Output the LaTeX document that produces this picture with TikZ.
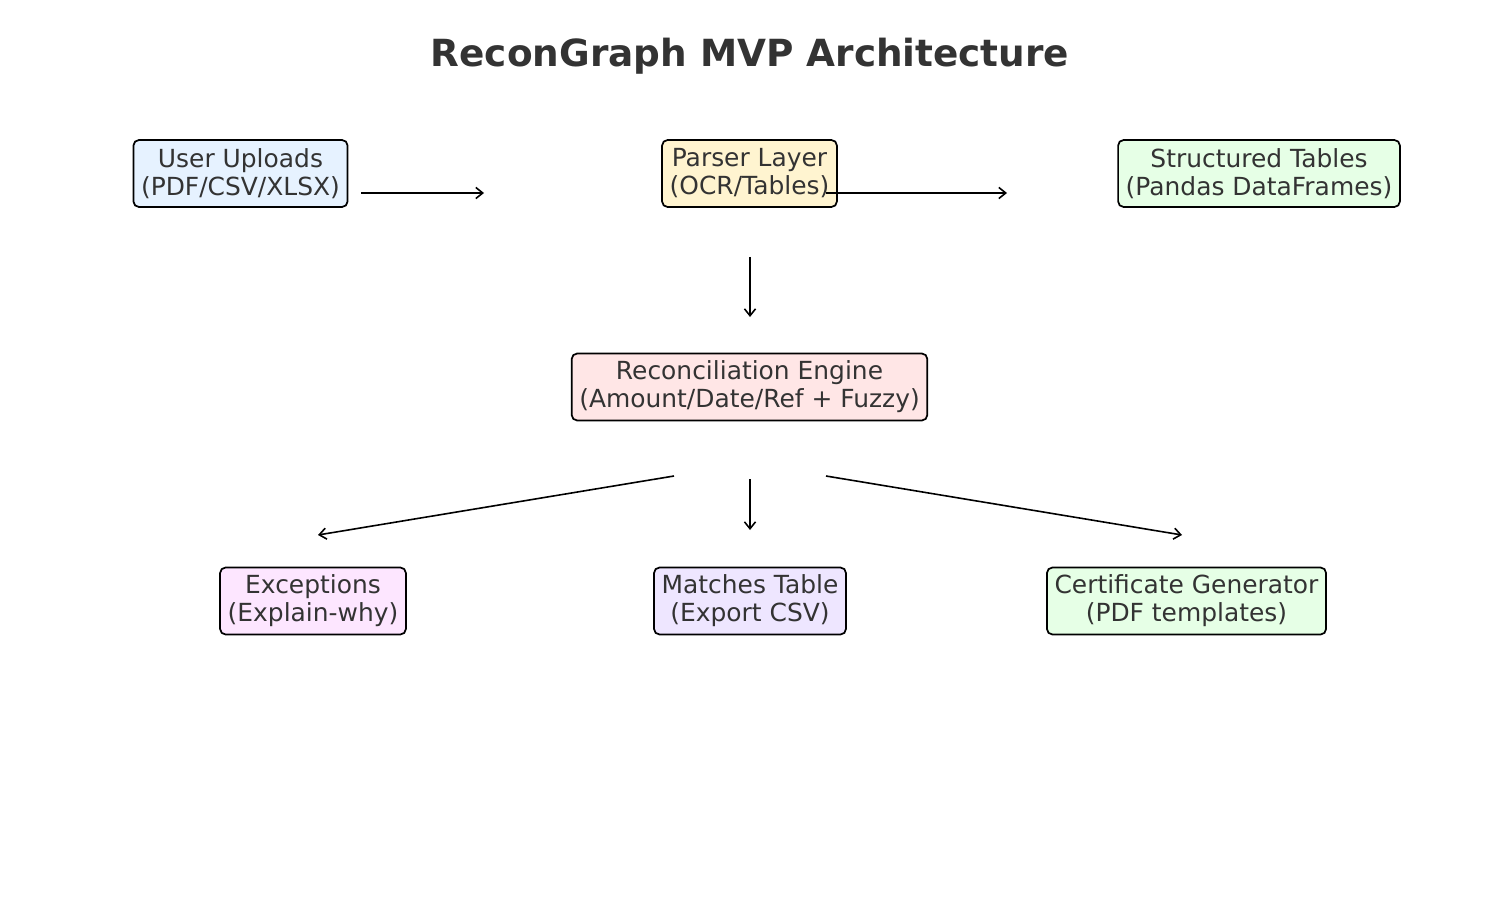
\documentclass[tikz,border=0pt]{standalone}
\usepackage{fontspec}
\setmainfont{DejaVu Sans}
\usetikzlibrary{positioning}
\usetikzlibrary{arrows.meta}

\definecolor{txtGray}{HTML}{333333}
\definecolor{uploadFill}{HTML}{E6F2FF}
\definecolor{parserFill}{HTML}{FFF4D0}
\definecolor{tableFill}{HTML}{E6FFE6}
\definecolor{engineFill}{HTML}{FFE6E6}
\definecolor{excFill}{HTML}{FDE6FF}
\definecolor{matchFill}{HTML}{EEE6FF}
\definecolor{certFill}{HTML}{E6FFE6}

\tikzset{
	stagebox/.style={rectangle, draw=black, line width=1.25pt, rounded corners=4pt, text=txtGray, align=center, minimum height=0.67in, inner xsep=5.5pt, font=\fontsize{18}{20.3}\selectfont},
	flow/.style={-{Straight Barb[length=5pt,width=8pt]}, line width=1.15pt}
}

\begin{document}
\begin{tikzpicture}[x=0.01in, y=-0.01in]
	\useasboundingbox (0,0) rectangle (1500,900);

	\node[font=\fontsize{27}{32}\selectfont\bfseries, text=txtGray](title) at (750,56){ReconGraph MVP Architecture};

	% top row
	\node[stagebox, fill=uploadFill](uploads) at (240.5,173.5){User Uploads\\(PDF/CSV/XLSX)};
	\node[stagebox, fill=parserFill](parser) at (749.5,173.5){Parser Layer\\(OCR/Tables)};
	\node[stagebox, fill=tableFill](tables) at (1259,173.5){Structured Tables\\(Pandas DataFrames)};

	% engine
	\node[stagebox, fill=engineFill](engine) at (749.5,387){Reconciliation Engine\\(Amount/Date/Ref + Fuzzy)};

	% outputs
	\node[stagebox, fill=excFill](exceptions) at (313,601){Exceptions\\(Explain-why)};
	\node[stagebox, fill=matchFill](matches) at (750,601){Matches Table\\(Export CSV)};
	\node[stagebox, fill=certFill](certgen) at (1186.5,601){Certificate Generator\\(PDF templates)};

	% arrow ends
	\coordinate(uploadsOut) at (361,193);
	\coordinate(parserIn) at (484,193);
	\coordinate(parserOut) at (826,193);
	\coordinate(tablesIn) at (1007,193);
	\coordinate(parserDown) at (750,257);
	\coordinate(engineIn) at (750,317);
	\coordinate(engineOutL) at (674,476);
	\coordinate(exceptionsIn) at (318,535);
	\coordinate(engineOutM) at (750,479);
	\coordinate(matchesIn) at (750,530);
	\coordinate(engineOutR) at (826,476);
	\coordinate(certgenIn) at (1182,535);

	\draw[flow](uploadsOut) -- (parserIn);
	\draw[flow](parserOut) -- (tablesIn);
	\draw[flow](parserDown) -- (engineIn);
	\draw[flow](engineOutL) -- (exceptionsIn);
	\draw[flow](engineOutM) -- (matchesIn);
	\draw[flow](engineOutR) -- (certgenIn);

\end{tikzpicture}
\end{document}
